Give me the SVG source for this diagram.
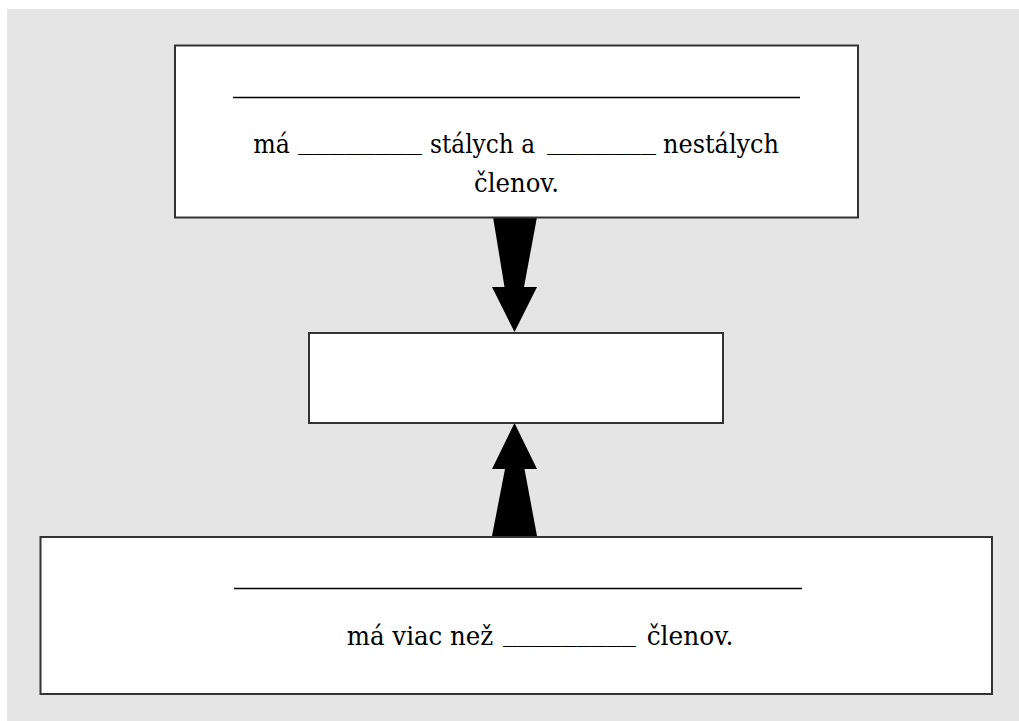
<svg xmlns="http://www.w3.org/2000/svg" width="1019" height="721" viewBox="0 0 1019 721">
<style>
.box{fill:#ffffff;stroke:#333333;stroke-width:2}
.rule{stroke:#000000;stroke-width:1.5}
.t{font-family:'DejaVu Serif',serif;font-size:26px;fill:#000000}
.arrow{fill:#000000}
</style>
<rect x="0" y="0" width="1019" height="721" fill="#ffffff"/>
<rect x="7" y="9" width="1012" height="712" fill="#e5e5e5"/>
<g id="connectors">
<polygon class="arrow" points="493,217 537,217 524,287 537,287 514.5,332 492,287 504.5,287"/>
<polygon class="arrow" points="514.5,423 537,469 524.5,469 537,536 492,536 505,469 492,469"/>
</g>
<g id="node-top">
<rect class="box" x="175" y="45.5" width="683" height="172"/>
<line class="rule" x1="233" y1="97.5" x2="800" y2="97.5"/>
<text class="t" y="153"><tspan x="253.3" textLength="36.7" lengthAdjust="spacingAndGlyphs">má</tspan><tspan x="298" dy="-4" textLength="124" lengthAdjust="spacingAndGlyphs">________</tspan><tspan x="430" dy="4" textLength="105" lengthAdjust="spacingAndGlyphs">stálych a</tspan><tspan x="547" dy="-4" textLength="109" lengthAdjust="spacingAndGlyphs">_______</tspan><tspan x="663" dy="4" textLength="116" lengthAdjust="spacingAndGlyphs">nestálych</tspan></text>
<text class="t" x="474" y="192" textLength="85" lengthAdjust="spacingAndGlyphs">členov.</text>
</g>
<g id="node-middle">
<rect class="box" x="309" y="333" width="414" height="90"/>
</g>
<g id="node-bottom">
<rect class="box" x="40.5" y="537" width="951.5" height="157"/>
<line class="rule" x1="234" y1="588.5" x2="802" y2="588.5"/>
<text class="t" y="645"><tspan x="346.7" textLength="146.6" lengthAdjust="spacingAndGlyphs">má viac než</tspan><tspan x="503" dy="-4" textLength="133" lengthAdjust="spacingAndGlyphs">_________</tspan><tspan x="646.7" dy="4" textLength="86.6" lengthAdjust="spacingAndGlyphs">členov.</tspan></text>
</g>
</svg>
